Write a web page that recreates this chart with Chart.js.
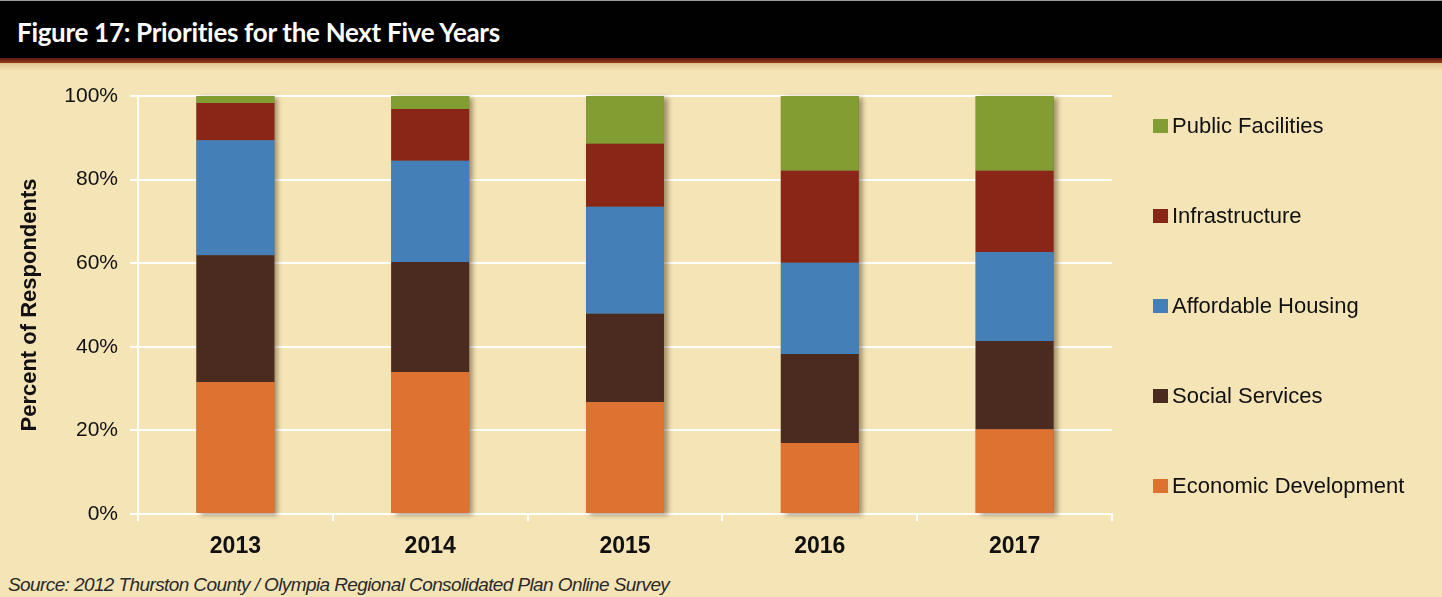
<!DOCTYPE html>
<html>
<head>
<meta charset="utf-8">
<script src="https://cdn.jsdelivr.net/npm/chart.js@4"></script>
<style>
  html, body { margin:0; padding:0; }
  body { width:1442px; height:597px; background:#F4E4B6; position:relative; overflow:hidden; font-family:"Liberation Sans", Arial, sans-serif; }
  #bar { position:absolute; left:0; top:0; width:1442px; height:58px; background:#020101; border-top:1px solid #9a9a9a; box-sizing:border-box; }
  #bar .t { position:absolute; left:17px; top:15px; color:#fff; font-family:Lato, "Open Sans", sans-serif; font-weight:700; font-size:26px; letter-spacing:-0.3px; line-height:32px; }
  #rule { position:absolute; left:0; top:58px; width:1442px; height:5px; background:linear-gradient(#5a1a0c, #9b3b1c); }
  #shade { position:absolute; left:0; top:63px; width:1442px; height:8px; background:linear-gradient(rgba(200,150,90,0.45), rgba(244,228,182,0)); }
  #src { position:absolute; left:8px; top:574px; font-style:italic; font-size:19px; line-height:22px; color:#2a2a2a; letter-spacing:-0.6px; }
  canvas { position:absolute; left:0; top:0; }
</style>
</head>
<body>
<div id="bar"><div class="t">Figure 17: Priorities for the Next Five Years</div></div>
<div id="rule"></div>
<div id="shade"></div>
<div id="src">Source: 2012 Thurston County / Olympia Regional Consolidated Plan Online Survey</div>
<canvas id="c" width="1442" height="597"></canvas>
<script>
const years = ['2013', '2014', '2015', '2016', '2017'];
const economicDevelopment = [31.6, 34.0, 26.8, 17.0, 20.3];
const socialServices      = [30.3, 26.3, 21.1, 21.3, 21.1];
const affordableHousing   = [27.5, 24.2, 25.6, 21.8, 21.3];
const infrastructure      = [8.9, 12.4, 15.1, 22.0, 19.4];
const publicFacilities    = [1.7, 3.1, 11.4, 17.9, 17.9];
const yTicks = [0, 20, 40, 60, 80, 100];

const seriesNames = ['Economic Development', 'Social Services', 'Affordable Housing', 'Infrastructure', 'Public Facilities'];
const seriesColors = ['#DE7230', '#4B2B20', '#457FB7', '#8A2617', '#829E33'];
const seriesData = [economicDevelopment, socialServices, affordableHousing, infrastructure, publicFacilities];

const stackShadow = {
  id: 'stackShadow',
  beforeDatasetsDraw(chart) {
    const ctx = chart.ctx;
    const n = chart.data.datasets.length;
    const bottomMeta = chart.getDatasetMeta(0);
    const topMeta = chart.getDatasetMeta(n - 1);
    ctx.save();
    ctx.shadowColor = 'rgba(60,40,10,0.45)';
    ctx.shadowBlur = 5;
    ctx.shadowOffsetX = 4;
    ctx.shadowOffsetY = 2;
    ctx.fillStyle = '#7a6a50';
    bottomMeta.data.forEach((el, i) => {
      const t = topMeta.data[i];
      const w = el.width;
      ctx.fillRect(el.x - w / 2, t.y, w, el.base - t.y);
    });
    ctx.restore();
  }
};

const sideLegend = {
  id: 'sideLegend',
  afterDraw(chart) {
    const ctx = chart.ctx;
    ctx.save();
    ctx.font = '22px "Liberation Sans", Arial, sans-serif';
    ctx.textBaseline = 'middle';
    const ds = chart.data.datasets.slice().reverse();
    ds.forEach((d, k) => {
      const cy = 126 + k * 90;
      ctx.fillStyle = d.backgroundColor;
      ctx.fillRect(1153, cy - 7, 15, 14);
      ctx.fillStyle = '#111';
      ctx.fillText(d.label, 1172, cy + 1);
    });
    ctx.restore();
  }
};

new Chart(document.getElementById('c'), {
  type: 'bar',
  data: {
    labels: years,
    datasets: seriesNames.map((name, i) => ({
      label: name,
      data: seriesData[i],
      backgroundColor: seriesColors[i],
      borderWidth: 0,
      barPercentage: 0.4,
      categoryPercentage: 1.0
    }))
  },
  options: {
    responsive: false,
    animation: false,
    layout: { padding: { left: 0, top: 96, right: 330, bottom: 0 } },
    plugins: { legend: { display: false }, title: { display: false }, tooltip: { enabled: false } },
    scales: {
      x: {
        stacked: true,
        afterFit(s) { s.height = 83; },
        grid: { display: true, drawOnChartArea: false, color: '#ffffff', lineWidth: 2, tickLength: 7, offset: true },
        border: { display: true, color: '#ffffff', width: 2 },
        ticks: { color: '#111', padding: 12, font: { family: '"Liberation Sans", Arial, sans-serif', size: 23, weight: 'bold' } }
      },
      y: {
        stacked: true,
        min: 0, max: 100,
        afterFit(s) { s.width = 138; },
        afterBuildTicks(s) { s.ticks = yTicks.map(v => ({ value: v })); },
        grid: { color: '#ffffff', lineWidth: 2, tickLength: 8 },
        border: { display: true, color: '#ffffff', width: 2 },
        ticks: { color: '#111', padding: 12, font: { family: '"Liberation Sans", Arial, sans-serif', size: 21 }, callback: v => v + '%' },
        title: { display: true, text: 'Percent of Respondents', color: '#111', padding: { top: 17, bottom: 0 }, font: { family: '"Liberation Sans", Arial, sans-serif', size: 22, weight: 'bold' } }
      }
    }
  },
  plugins: [stackShadow, sideLegend]
});
</script>
</body>
</html>
